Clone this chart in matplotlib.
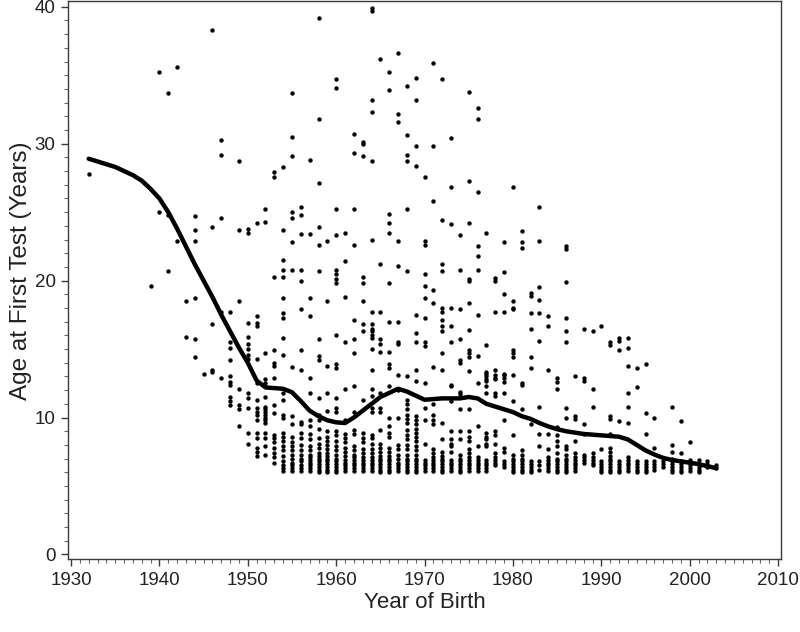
import matplotlib
matplotlib.use("Agg")
import matplotlib.pyplot as plt
from matplotlib.ticker import MultipleLocator

# ---------------- data (year of birth, ages at first test) ----------------
births_1930s = [
    (1932, [27.8]),
    (1939, [19.6]),
]

births_1940s = [
    (1940, [35.2, 25.0]),
    (1941, [33.7, 24.8, 20.7]),
    (1942, [35.6, 22.9]),
    (1943, [18.5, 15.9]),
    (1944, [24.7, 23.7, 22.9, 18.7, 15.7, 14.4]),
    (1945, [13.2]),
    (1946, [38.3, 23.9, 16.8, 13.5, 13.3]),
    (1947, [30.3, 29.2, 24.6, 17.7, 12.9]),
    (1948, [17.7, 15.5, 15.1, 14.2, 13.0, 12.6, 12.4, 11.5, 11.2, 10.9]),
    (1949, [28.7, 23.7, 18.5, 12.1, 10.9, 10.6, 9.4]),
]

births_1950s = [
    (1950, [23.8, 23.5, 16.9, 15.9, 15.4, 15.0, 14.6, 14.3, 11.8, 11.4, 10.7, 8.9, 8.1]),
    (1951, [24.2, 17.4, 16.9, 16.7, 14.3, 12.5, 11.3, 10.7, 10.4, 10.2, 9.8, 8.9, 8.5,
            7.8, 7.5, 7.2]),
    (1952, [25.2, 24.3, 14.7, 12.8, 12.5, 11.5, 10.8, 10.6, 10.4, 10.2, 10.0, 9.8, 9.6,
            8.9, 8.5, 7.9, 7.3]),
    (1953, [27.9, 27.6, 20.3, 14.9, 14.0, 13.8, 12.9, 10.9, 10.3, 8.7, 8.5, 8.2, 7.8,
            7.4, 7.1, 6.7]),
    (1954, [28.3, 23.7, 21.5, 20.8, 20.3, 18.7, 17.6, 17.3, 15.8, 14.6, 11.8, 11.3, 10.2,
            10.0, 8.9, 8.6, 8.3, 7.9, 7.6, 7.2, 6.8, 6.5, 6.3, 6.1]),
    (1955, [33.7, 30.5, 29.1, 25.0, 24.6, 22.8, 20.8, 13.7, 10.1, 9.5, 8.6, 8.2, 7.9,
            7.6, 7.3, 7.0, 6.7, 6.5, 6.3, 6.1]),
    (1956, [25.4, 24.8, 23.4, 20.8, 20.0, 17.9, 14.9, 13.5, 9.7, 9.5, 8.9, 8.5, 8.0,
            7.6, 7.3, 7.0, 6.8, 6.5, 6.3, 6.1]),
    (1957, [28.8, 23.4, 18.7, 17.4, 12.9, 11.8, 9.8, 9.4, 8.8, 8.4, 7.9, 7.6, 7.3, 7.1,
            6.9, 6.7, 6.5, 6.3, 6.1]),
    (1958, [39.2, 31.8, 27.1, 23.9, 22.6, 20.7, 15.7, 14.5, 14.2, 11.4, 10.2, 9.8, 9.2,
            8.5, 8.1, 7.8, 7.4, 7.2, 7.0, 6.8, 6.6, 6.4, 6.2, 6.0]),
    (1959, [22.9, 18.5, 13.8, 11.8, 10.5, 9.0, 8.6, 8.3, 8.0, 7.7, 7.4, 7.2, 7.0, 6.8,
            6.6, 6.4, 6.2, 6.0]),
]

births_1960s = [
    (1960, [34.7, 34.1, 25.2, 23.3, 20.8, 20.5, 20.1, 19.8, 16.0, 13.9, 13.6, 11.4, 10.7,
            10.4, 9.0, 8.7, 8.3, 7.9, 7.6, 7.3, 7.0, 6.8, 6.6, 6.4, 6.2, 6.0]),
    (1961, [23.5, 21.4, 18.8, 15.5, 12.1, 9.85, 8.8, 8.5, 8.2, 7.8, 7.5, 7.2, 6.9, 6.7,
            6.5, 6.3, 6.1]),
    (1962, [30.7, 29.3, 25.2, 22.6, 17.1, 15.7, 14.7, 12.3, 10.4, 9.1, 8.8, 7.9, 7.6,
            7.3, 7.1, 6.9, 6.7, 6.5, 6.3, 6.1]),
    (1963, [30.1, 30.0, 29.1, 20.3, 19.8, 18.5, 16.8, 16.3, 11.3, 8.9, 8.5, 8.2, 7.7,
            7.4, 7.1, 6.9, 6.7, 6.5, 6.3, 6.1]),
    (1964, [39.9, 39.7, 33.2, 32.3, 28.7, 23.0, 17.7, 16.8, 16.5, 16.3, 16.0, 15.8, 15.0,
            13.5, 12.1, 11.6, 10.7, 10.4, 8.7, 8.5, 8.1, 7.7, 7.4, 7.1, 6.9, 6.7, 6.5,
            6.3, 6.1]),
    (1965, [36.2, 21.2, 17.7, 15.7, 15.4, 14.8, 11.8, 10.7, 10.4, 9.1, 8.1, 7.8, 7.5,
            7.2, 7.0, 6.8, 6.6, 6.4, 6.2, 6.0]),
    (1966, [35.2, 33.9, 24.9, 24.2, 23.5, 19.8, 17.0, 14.8, 13.9, 13.6, 12.3, 10.0, 9.4,
            8.9, 8.6, 7.8, 7.5, 7.2, 7.0, 6.8, 6.6, 6.4, 6.2, 6.0]),
    (1967, [36.6, 32.2, 31.6, 22.9, 21.1, 17.0, 15.5, 15.4, 13.1, 12.0, 10.0, 8.0, 7.7,
            7.3, 7.0, 6.7, 6.5, 6.3, 6.1]),
    (1968, [34.2, 30.6, 29.2, 28.7, 25.2, 20.7, 13.0, 11.3, 11.0, 10.6, 10.2, 9.9, 9.6,
            9.1, 8.7, 8.4, 8.0, 7.7, 7.3, 7.0, 6.8, 6.6, 6.4, 6.2, 6.0]),
    (1969, [34.8, 33.2, 29.8, 28.4, 17.5, 16.2, 15.5, 13.5, 12.7, 10.1, 9.8, 9.5, 9.2,
            8.9, 8.6, 8.3, 7.9, 7.6, 7.3, 7.0, 6.8, 6.6, 6.4, 6.2, 6.0]),
]

births_1970s = [
    (1970, [27.6, 22.9, 22.6, 20.5, 19.6, 18.7, 17.3, 15.5, 15.2, 12.5, 10.7, 9.85, 8.1,
            6.9, 6.7, 6.5, 6.3, 6.1]),
    (1971, [35.9, 29.8, 25.8, 19.3, 18.4, 13.7, 11.0, 10.2, 9.85, 9.5, 7.7, 7.4, 7.1,
            6.9, 6.7, 6.5, 6.3, 6.1]),
    (1972, [34.7, 24.4, 21.2, 20.7, 18.0, 17.7, 17.1, 16.7, 16.3, 14.7, 13.5, 9.6, 8.4,
            7.5, 7.2, 7.0, 6.8, 6.6, 6.4, 6.2, 6.0]),
    (1973, [30.4, 26.8, 24.1, 18.0, 16.7, 15.5, 12.4, 12.3, 11.2, 9.0, 8.4, 8.1, 7.9,
            7.5, 6.9, 6.7, 6.5, 6.3, 6.1]),
    (1974, [23.3, 20.8, 17.9, 15.7, 14.2, 14.0, 11.9, 11.7, 10.6, 9.0, 8.4, 7.3, 7.0,
            6.8, 6.6, 6.4, 6.2, 6.0]),
    (1975, [33.8, 27.3, 24.2, 20.1, 20.0, 18.4, 16.4, 14.9, 14.7, 14.4, 13.4, 10.6, 9.0,
            8.6, 8.3, 7.7, 7.4, 7.1, 6.9, 6.7, 6.5, 6.3, 6.1]),
    (1976, [32.6, 31.8, 26.5, 22.5, 21.8, 20.8, 17.5, 14.5, 12.5, 9.4, 7.9, 7.1, 6.9,
            6.7, 6.5, 6.3, 6.1]),
    (1977, [23.5, 15.3, 13.3, 13.2, 13.0, 12.8, 12.7, 12.3, 11.8, 8.9, 8.6, 8.4, 8.1,
            7.9, 6.9, 6.7, 6.5, 6.3, 6.1]),
    (1978, [20.2, 20.0, 17.7, 13.5, 13.1, 12.9, 12.8, 11.8, 11.6, 9.0, 8.7, 8.1, 7.4,
            7.1, 6.9, 6.7, 6.5]),
    (1979, [22.8, 20.6, 19.0, 17.7, 13.2, 13.1, 12.9, 12.6, 11.8, 9.85, 7.8, 7.5, 6.8,
            6.6, 6.4]),
]

births_1980s = [
    (1980, [26.8, 18.5, 18.0, 17.9, 14.9, 14.7, 14.4, 13.1, 11.2, 8.7, 7.3, 7.0, 6.8,
            6.6, 6.4, 6.2, 6.0]),
    (1981, [23.6, 22.8, 22.4, 12.5, 12.4, 10.6, 7.6, 7.3, 7.0, 6.8, 6.6, 6.4, 6.2, 6.0]),
    (1982, [19.1, 18.9, 17.6, 16.5, 14.4, 13.6, 9.5, 6.8, 6.6, 6.4, 6.2, 6.0]),
    (1983, [25.4, 22.9, 19.5, 18.6, 17.6, 15.6, 10.8, 8.8, 7.9, 6.8, 6.5, 6.2]),
    (1984, [17.4, 16.7, 13.5, 8.8, 7.7, 7.1, 6.9, 6.7, 6.5, 6.3, 6.1]),
    (1985, [12.9, 12.6, 12.1, 9.3, 8.7, 8.3, 7.9, 7.4, 7.0, 6.8, 6.6, 6.4, 6.2, 6.0]),
    (1986, [22.5, 22.3, 19.9, 17.3, 16.3, 15.5, 10.7, 10.0, 7.9, 7.7, 7.3, 7.0, 6.8,
            6.6, 6.4, 6.2, 6.0]),
    (1987, [13.0, 10.1, 9.9, 8.3, 7.4, 7.1, 6.9, 6.7, 6.5, 6.3, 6.1]),
    (1988, [16.5, 12.9, 12.7, 9.5, 8.8, 7.3, 7.1, 6.9, 6.7]),
    (1989, [16.3, 12.1, 10.8, 7.4, 7.1, 6.9, 6.7, 6.5]),
]

births_1990s = [
    (1990, [16.7, 7.7, 6.8, 6.6, 6.4, 6.2, 6.0]),
    (1991, [15.5, 15.3, 10.1, 9.9, 8.8, 7.8, 7.5, 7.2, 7.0, 6.8, 6.6, 6.4, 6.2, 6.0]),
    (1992, [15.8, 15.6, 14.9, 9.75, 6.8, 6.6, 6.4, 6.2, 6.0]),
    (1993, [15.8, 15.1, 13.8, 11.8, 10.8, 9.6, 7.1, 6.9, 6.7, 6.5, 6.3, 6.1]),
    (1994, [13.6, 12.2, 6.8, 6.6, 6.4, 6.2, 6.0]),
    (1995, [13.9, 10.3, 8.8, 6.8, 6.6, 6.4, 6.2, 6.0]),
    (1996, [10.0, 7.8, 6.8, 6.6, 6.4, 6.2]),
    (1997, [6.8, 6.6, 6.4]),
    (1998, [10.8, 8.0, 7.5, 7.0, 6.8, 6.6, 6.4, 6.2, 6.0]),
    (1999, [9.75, 7.4, 6.8, 6.6, 6.4, 6.2, 6.0]),
]

births_2000s = [
    (2000, [8.2, 6.9, 6.7, 6.5, 6.3, 6.1]),
    (2001, [6.9, 6.6, 6.4, 6.2, 6.0]),
    (2002, [6.8, 6.6, 6.4]),
    (2003, [6.5, 6.3]),
]

# smoothed (loess) curve
smooth_years = list(range(1932, 2004))
smooth_ages = [28.9, 28.7, 28.5, 28.3, 28.0, 27.7, 27.3, 26.7, 26.0, 25.0,
               23.8, 22.5, 21.2, 20.0, 18.8, 17.5, 16.3, 15.1, 14.0, 12.7,
               12.2, 12.15, 12.1, 11.85, 11.2, 10.5, 10.1, 9.8, 9.65, 9.6,
               10.0, 10.5, 11.0, 11.5, 11.8, 12.1, 11.9, 11.6, 11.3, 11.35,
               11.4, 11.4, 11.4, 11.5, 11.4, 11.0, 10.8, 10.6, 10.4, 10.1,
               9.9, 9.6, 9.35, 9.15, 9.0, 8.9, 8.8, 8.75, 8.7, 8.65,
               8.6, 8.4, 8.0, 7.6, 7.3, 7.05, 6.9, 6.8, 6.7, 6.6,
               6.45, 6.3]

x_ticks = [1930, 1940, 1950, 1960, 1970, 1980, 1990, 2000, 2010]
y_ticks = [0, 10, 20, 30, 40]

# ---------------- fonts ----------------
plt.rcParams["font.family"] = ["Liberation Sans", "DejaVu Sans"]
tick_size, xlabel_size, ylabel_size = 13.5, 16, 17.5

# ---------------- figure ----------------
fig = plt.figure(figsize=(8.0, 6.32), dpi=100)
ax = fig.add_axes([0.085, 0.1155, 0.891, 0.8825])

xs, ys = [], []
for decade in (births_1930s, births_1940s, births_1950s, births_1960s,
               births_1970s, births_1980s, births_1990s, births_2000s):
    for year, ages in decade:
        xs.extend([year] * len(ages))
        ys.extend(ages)

ax.scatter(xs, ys, s=10, c="black", linewidths=0, zorder=2)
ax.plot(smooth_years, smooth_ages, color="black", lw=3.2,
        solid_capstyle="round", solid_joinstyle="round", zorder=3)

ax.set_xlim(1929.66, 2010.3)
ax.set_ylim(-0.33, 40.4)
ax.set_xticks(x_ticks)
ax.set_yticks(y_ticks)
ax.xaxis.set_minor_locator(MultipleLocator(1))
ax.yaxis.set_minor_locator(MultipleLocator(1))

frame_col = "#3a3a3a"
for sp in ax.spines.values():
    sp.set_color(frame_col)
    sp.set_linewidth(1.0)
ax.tick_params(which="major", direction="out", length=5, width=1.0,
               color=frame_col, labelsize=tick_size, labelcolor="#222222", pad=4)
ax.tick_params(which="minor", direction="out", length=3, width=0.8, color="#666666")

ax.set_xlabel("Year of Birth", fontsize=xlabel_size, color="#222222")
ax.set_ylabel("Age at First Test (Years)", fontsize=ylabel_size, color="#222222")
ax.xaxis.set_label_coords(0.5, -0.06)
ax.yaxis.set_label_coords(-0.05, 0.516)

fig.savefig("out.png", dpi=100, facecolor="white")
